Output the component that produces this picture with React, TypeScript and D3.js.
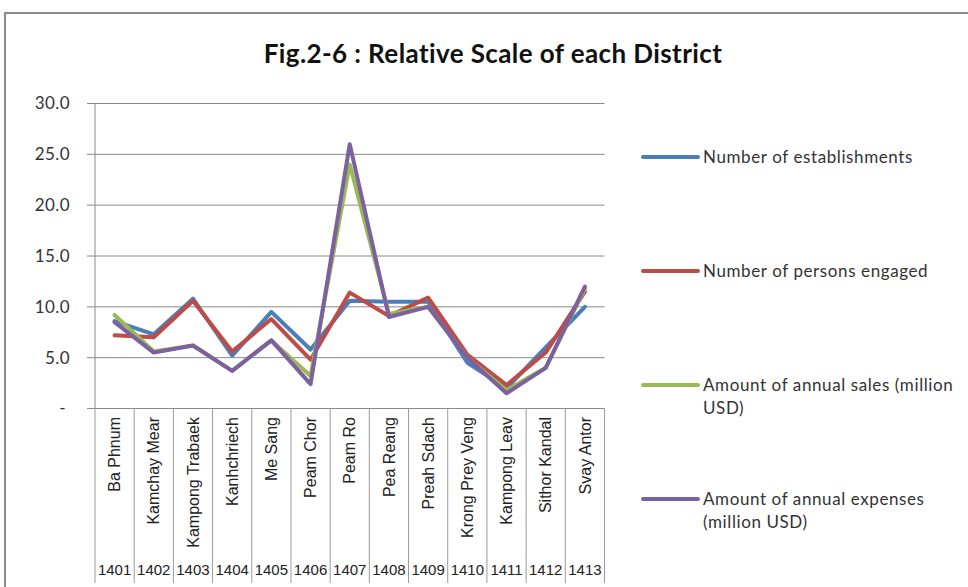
import React from 'react';
import * as d3 from 'd3';

const codes = ['1401', '1402', '1403', '1404', '1405', '1406', '1407', '1408', '1409', '1410', '1411', '1412', '1413'];
const districts = ['Ba Phnum', 'Kamchay Mear', 'Kampong Trabaek', 'Kanhchriech', 'Me Sang', 'Peam Chor', 'Peam Ro', 'Pea Reang', 'Preah Sdach', 'Krong Prey Veng', 'Kampong Leav', 'Sithor Kandal', 'Svay Antor'];

const establishments = [8.6, 7.3, 10.8, 5.2, 9.5, 5.8, 10.6, 10.5, 10.5, 4.5, 2.0, 6.0, 10.0];
const persons = [7.2, 7.0, 10.6, 5.6, 8.8, 4.8, 11.4, 9.1, 10.9, 5.3, 2.3, 5.5, 11.5];
const sales = [9.2, 5.6, 6.2, 3.7, 6.7, 3.2, 24.0, 9.3, 10.0, 5.0, 1.8, 4.0, 11.8];
const expenses = [8.5, 5.5, 6.2, 3.7, 6.7, 2.4, 26.0, 9.0, 10.0, 5.0, 1.5, 4.0, 12.0];

const yTicks = [0, 5, 10, 15, 20, 25, 30];

const seriesNames = ['Number of establishments', 'Number of persons engaged', 'Amount of annual sales (million USD)', 'Amount of annual expenses (million USD)'];
const legendLines = [['Number of establishments'], ['Number of persons engaged'], ['Amount of annual sales (million', 'USD)'], ['Amount of annual expenses', '(million USD)']];
const colors = ['#4a7ebb', '#be4b48', '#98b954', '#7d60a0'];

const App = () => {
  const width = 968, height = 587;
  const left = 95, right = 604.5, top = 103.5, bottom = 408.5;

  const x = d3.scaleBand<string>().domain(codes).range([left, right]).padding(0);
  const y = d3.scaleLinear().domain([0, 30]).range([bottom, top]);

  const all = [establishments, persons, sales, expenses];
  const line = d3.line<number>()
    .x((d, i) => (x(codes[i]) as number) + x.bandwidth() / 2)
    .y(d => y(d));

  const axisFont = 'Lato, "Open Sans", sans-serif';
  const catFont = '"Liberation Sans", Arial, sans-serif';

  return (
    <svg width={width} height={height} style={{ position: 'absolute', left: 0, top: 0, background: '#fff' }}>
      <rect x={5} y={13} width={980} height={600} fill="#fff" stroke="#8c8c8c" strokeWidth={2} />
      <text x={493} y={63} textAnchor="middle" fontFamily={axisFont} fontWeight="bold" fontSize={26} letterSpacing={0.4} fill="#111">
        Fig.2-6 : Relative Scale of each District
      </text>

      {/* grid + y labels */}
      {yTicks.map(t => (
        <g key={t}>
          <line x1={left - 8} x2={right} y1={y(t)} y2={y(t)} stroke="#8a8a8a" strokeWidth={1} />
          <text x={t === 0 ? 66 : 70} y={y(t)} dy="0.35em" textAnchor="end" fontFamily={axisFont} fontSize={17} letterSpacing={0.4} fill="#333">
            {t === 0 ? '-' : d3.format('.1f')(t)}
          </text>
        </g>
      ))}
      <line x1={left} x2={left} y1={top} y2={bottom} stroke="#8a8a8a" strokeWidth={1} />

      {/* category dividers */}
      {codes.concat(['end']).map((c, i) => {
        const xx = i < codes.length ? (x(c) as number) : right;
        return <line key={c} x1={xx} x2={xx} y1={bottom} y2={583} stroke="#9a9a9a" strokeWidth={1} />;
      })}
      {codes.map((c, i) => {
        const cx = (x(c) as number) + x.bandwidth() / 2;
        return (
          <g key={c}>
            <text transform={`translate(${cx},417) rotate(-90)`} dy="0.35em" textAnchor="end" fontFamily={catFont} fontSize={16} fill="#222">
              {districts[i]}
            </text>
            <text x={cx} y={575} textAnchor="middle" fontFamily={catFont} fontSize={15} fill="#222">{c}</text>
          </g>
        );
      })}

      {/* series */}
      {all.map((s, k) => (
        <path key={seriesNames[k]} d={line(s) as string} fill="none" stroke={colors[k]} strokeWidth={4} strokeLinejoin="round" strokeLinecap="round" />
      ))}

      {/* legend */}
      {legendLines.map((lines, k) => {
        const ly = 157 + k * 114;
        return (
          <g key={k}>
            <line x1={643} x2={698} y1={ly} y2={ly} stroke={colors[k]} strokeWidth={4} strokeLinecap="round" />
            {lines.map((t, j) => (
              <text key={j} x={703} y={ly + j * 23} dy="0.35em" fontFamily={axisFont} fontSize={17} letterSpacing={0.6} fill="#333">{t}</text>
            ))}
          </g>
        );
      })}
    </svg>
  );
};

export default App;
